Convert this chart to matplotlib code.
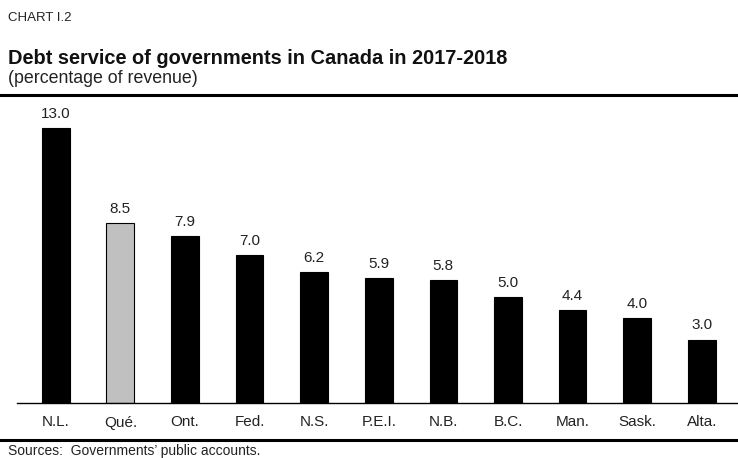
import matplotlib.pyplot as plt
from matplotlib.lines import Line2D

plt.rcParams['font.family'] = ['Liberation Sans', 'DejaVu Sans']

governments = ['N.L.', 'Qué.', 'Ont.', 'Fed.', 'N.S.', 'P.E.I.', 'N.B.', 'B.C.', 'Man.', 'Sask.', 'Alta.']
debt_service = [13.0, 8.5, 7.9, 7.0, 6.2, 5.9, 5.8, 5.0, 4.4, 4.0, 3.0]

W, H = 738, 458
fig = plt.figure(figsize=(W / 100, H / 100), dpi=100)

ax = fig.add_axes([17 / W, 55 / H, 1 - 17 / W, 296 / H])
x = range(len(governments))
colors = ['#c0c0c0' if g == 'Qué.' else 'black' for g in governments]
bars = ax.bar(x, debt_service, width=0.43, color=colors, edgecolor='black', linewidth=0.8)
for b, v in zip(bars, debt_service):
    ax.text(b.get_x() + b.get_width() / 2, v + 0.35, f'{v:.1f}',
            ha='center', va='bottom', fontsize=11, color='#222222')

ax.set_xlim(-0.6, 10.56)
ax.set_ylim(0, 14)
ax.set_xticks(list(x))
ax.set_xticklabels(governments, fontsize=11, color='#222222')
ax.tick_params(axis='x', length=0, pad=9)
ax.set_yticks([])
for s in ['top', 'right', 'left']:
    ax.spines[s].set_visible(False)
ax.spines['bottom'].set_linewidth(1.0)

# header and footer text
fig.text(8 / W, 1 - 18 / H, 'CHART I.2', fontsize=9.5, va='center', color='#222222')
fig.text(8 / W, 1 - 58 / H, 'Debt service of governments in Canada in 2017-2018',
         fontsize=14.4, fontweight='bold', va='center', color='#111111')
fig.text(8 / W, 1 - 78 / H, '(percentage of revenue)', fontsize=12.8, va='center', color='#222222')
fig.text(8 / W, 1 - 451 / H, 'Sources:  Governments\u2019 public accounts.', fontsize=10,
         va='center', color='#222222')

# rules above and below the chart
fig.add_artist(Line2D([0, 1], [1 - 95 / H, 1 - 95 / H], color='black', linewidth=2.2))
fig.add_artist(Line2D([0, 1], [1 - 440 / H, 1 - 440 / H], color='black', linewidth=2.2))

fig.savefig('out.png', dpi=100)
